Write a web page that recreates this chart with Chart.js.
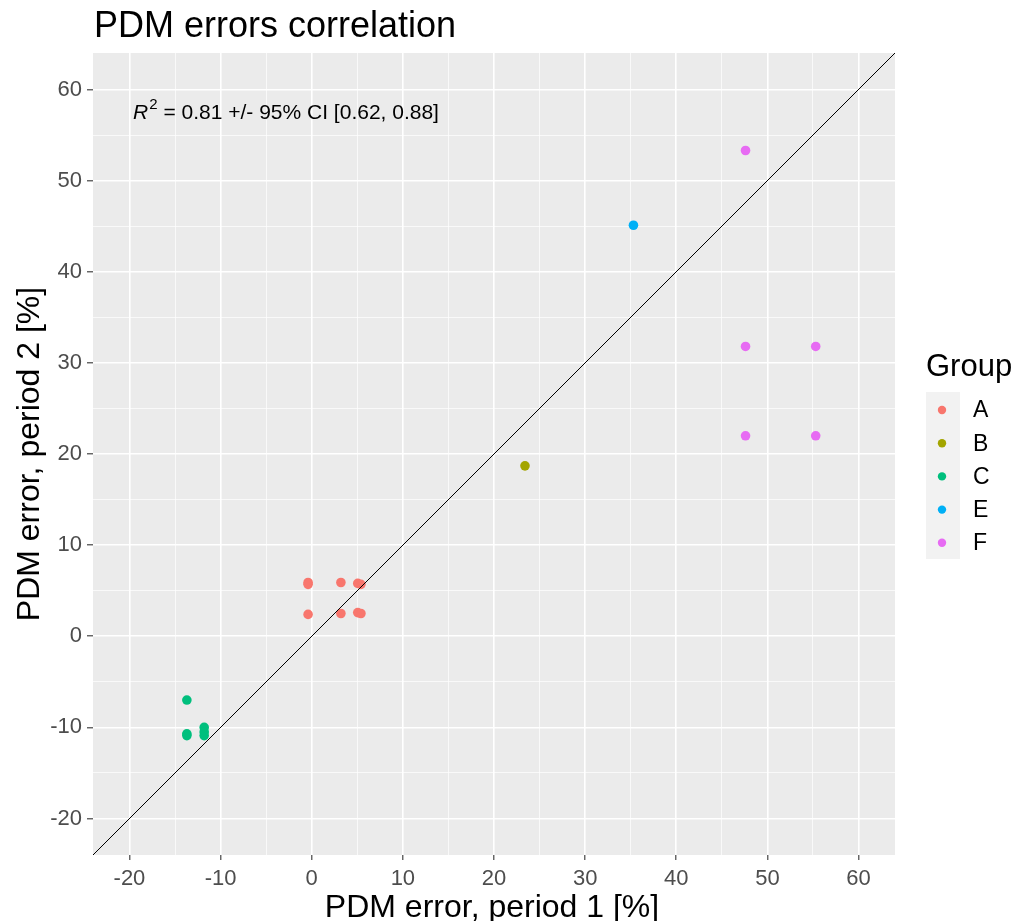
<!DOCTYPE html>
<html>
<head>
<meta charset="utf-8">
<title>PDM errors correlation</title>
<script src="https://cdn.jsdelivr.net/npm/chart.js@4.4.1/dist/chart.umd.min.js"></script>
<style>
  html, body { margin: 0; padding: 0; background: #ffffff; }
  #wrap { width: 1015px; height: 921px; position: relative; }
</style>
</head>
<body>
<div id="wrap"><canvas id="chart" width="1015" height="921"></canvas></div>
<script>
// groups and their points (PDM error period 1 vs period 2, %)
const groups = ['A', 'B', 'C', 'E', 'F'];
const groupColors = ['#F8766D', '#A3A500', '#00BF7D', '#00B0F6', '#E76BF3'];

const aX = [-0.4, -0.4, -0.4, 3.2, 3.2, 5.05, 5.4, 5.05, 5.4];
const aY = [5.9, 5.7, 2.4, 5.9, 2.5, 5.8, 5.7, 2.6, 2.5];
const bX = [23.4];
const bY = [18.7];
const cX = [-13.7, -13.7, -13.7, -11.8, -11.8, -11.8];
const cY = [-7.0, -10.7, -10.9, -10.0, -10.5, -10.9];
const eX = [35.3];
const eY = [45.1];
const fX = [47.6, 47.6, 55.3, 47.6, 55.3];
const fY = [53.3, 31.8, 31.8, 22.0, 22.0];

const seriesX = [aX, bX, cX, eX, fX];
const seriesY = [aY, bY, cY, eY, fY];

// identity line end points
const refLine = [-24, 64];

// axis settings
const axisMin = -24;
const axisMax = 64;
const majorTicks = [-20, -10, 0, 10, 20, 30, 40, 50, 60];
const minorTicks = [-15, -5, 5, 15, 25, 35, 45, 55];

const r2Text = ' = 0.81 +/- 95% CI [0.62, 0.88]';
const r2Pos = { x: -19.6, y: 56.8 };

const FONT = '"Liberation Sans", Arial, sans-serif';

function toPoints(xs, ys) {
  return xs.map((x, i) => ({ x: x, y: ys[i] }));
}

const datasets = [
  {
    label: 'identity',
    data: refLine.map(v => ({ x: v, y: v })),
    showLine: true,
    borderColor: '#000000',
    borderWidth: 1,
    pointRadius: 0,
    fill: false,
    order: 0,
  },
];
groups.forEach((g, i) => {
  datasets.push({
    label: g,
    data: toPoints(seriesX[i], seriesY[i]),
    backgroundColor: groupColors[i],
    borderWidth: 0,
    pointRadius: 4.8,
    pointHoverRadius: 4.8,
    order: 1,
  });
});

const allTicks = majorTicks.concat(minorTicks).sort((a, b) => a - b);
const isMajor = v => majorTicks.includes(v);

function axisOptions(isX) {
  return {
    type: 'linear',
    min: axisMin,
    max: axisMax,
    afterBuildTicks: scale => { scale.ticks = allTicks.map(v => ({ value: v })); },
    afterFit: scale => {
      if (isX) scale.height = 66; else scale.width = 93;
    },
    border: { display: false },
    grid: {
      color: '#FFFFFF',
      lineWidth: ctx => (ctx.tick && isMajor(ctx.tick.value)) ? 1.6 : 0.7,
      drawTicks: true,
      tickLength: isX ? 5 : 6,
      tickWidth: 1.1,
      tickColor: ctx => (ctx.tick && isMajor(ctx.tick.value)) ? '#333333' : 'rgba(0,0,0,0)',
    },
    ticks: {
      autoSkip: false,
      maxRotation: 0,
      minRotation: 0,
      padding: isX ? 6 : 5,
      color: '#4D4D4D',
      font: { family: FONT, size: 22 },
      callback: v => isMajor(v) ? String(v) : '',
    },
  };
}

// grey panel behind the plot
const panelBg = {
  id: 'panelBg',
  beforeDraw(chart) {
    const { ctx, chartArea: a } = chart;
    ctx.save();
    ctx.fillStyle = '#EBEBEB';
    ctx.fillRect(a.left, a.top, a.right - a.left, a.bottom - a.top);
    ctx.restore();
  },
};

// title, axis titles, annotation and legend
const decorations = {
  id: 'decorations',
  afterDraw(chart) {
    const { ctx, chartArea: a, scales } = chart;
    ctx.save();
    ctx.fillStyle = '#000000';
    ctx.textBaseline = 'alphabetic';

    // title
    ctx.textAlign = 'left';
    ctx.font = '36px ' + FONT;
    ctx.fillText('PDM errors correlation', 94, 37);

    // x axis title
    ctx.textAlign = 'center';
    ctx.font = '32px ' + FONT;
    ctx.fillText('PDM error, period 1 [%]', (a.left + a.right) / 2 - 2, 917);

    // y axis title
    ctx.save();
    ctx.translate(39, (a.top + a.bottom) / 2);
    ctx.rotate(-Math.PI / 2);
    ctx.fillText('PDM error, period 2 [%]', 0, 0);
    ctx.restore();

    // R^2 annotation
    const ax = scales.x.getPixelForValue(r2Pos.x);
    const ay = scales.y.getPixelForValue(r2Pos.y);
    ctx.textAlign = 'left';
    ctx.font = 'italic 21px ' + FONT;
    ctx.fillText('R', ax, ay);
    let w = ctx.measureText('R').width;
    ctx.font = '15px ' + FONT;
    ctx.fillText('2', ax + w + 1, ay - 10);
    w += ctx.measureText('2').width + 1;
    ctx.font = '21px ' + FONT;
    ctx.fillText(r2Text, ax + w, ay);

    // legend
    ctx.font = '31px ' + FONT;
    ctx.fillText('Group', 926, 376);
    ctx.fillStyle = '#F2F2F2';
    ctx.fillRect(926, 392, 34, 167);
    const keyY0 = 410;
    const keyStep = 33.2;
    groups.forEach((g, i) => {
      const y = keyY0 + i * keyStep;
      ctx.fillStyle = groupColors[i];
      ctx.beginPath();
      ctx.arc(942, y, 4.2, 0, Math.PI * 2);
      ctx.fill();
      ctx.fillStyle = '#000000';
      ctx.font = '23px ' + FONT;
      ctx.textBaseline = 'middle';
      ctx.fillText(g, 973, y + 1);
      ctx.textBaseline = 'alphabetic';
    });
    ctx.restore();
  },
};

new Chart(document.getElementById('chart'), {
  type: 'scatter',
  data: { datasets: datasets },
  options: {
    responsive: false,
    animation: false,
    devicePixelRatio: 1,
    layout: { padding: { top: 53, right: 120, bottom: 0, left: 0 } },
    plugins: {
      legend: { display: false },
      title: { display: false },
      tooltip: { enabled: false },
    },
    elements: { line: { tension: 0 } },
    scales: {
      x: axisOptions(true),
      y: axisOptions(false),
    },
  },
  plugins: [panelBg, decorations],
});
</script>
</body>
</html>
